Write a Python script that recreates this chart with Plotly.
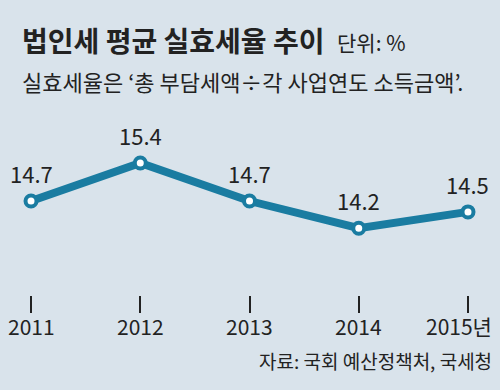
import plotly.graph_objects as go

years = [2011, 2012, 2013, 2014, 2015]
rates = [14.7, 15.4, 14.7, 14.2, 14.5]
year_labels = ["2011", "2012", "2013", "2014", "2015년"]
value_labels = ["14.7", "15.4", "14.7", "14.2", "14.5"]

title = "<b>법인세 평균 실효세율 추이</b>"
unit = "단위: %"
subtitle = "실효세율은 ‘총 부담세액÷각 사업연도 소득금액’."
source = "자료: 국회 예산정책처, 국세청"

BG = "#d9e3eb"
LINE = "#1a7ca1"
TXT = "#222222"
FONT = "Noto Sans CJK KR"

fig = go.Figure()
fig.add_trace(go.Scatter(
    x=years, y=rates, mode="lines+markers",
    line=dict(color=LINE, width=8),
    marker=dict(size=11, color="white", line=dict(color=LINE, width=4)),
    hoverinfo="skip", showlegend=False,
))

anns = []
for x, v, t in zip(years, rates, value_labels):
    anns.append(dict(x=x, y=v, text=t, showarrow=False, xanchor="center",
                     yanchor="bottom", yshift=10,
                     font=dict(family=FONT, size=22, color=TXT)))
for i, (x, t) in enumerate(zip(years, year_labels)):
    anns.append(dict(x=x, y=0, yref="paper", text=t, showarrow=False,
                     xanchor="center", yanchor="top", yshift=-14,
                     xshift=(-9 if i == len(years) - 1 else 0),
                     font=dict(family=FONT, size=21, color=TXT)))

fig.update_layout(
    width=500, height=390,
    paper_bgcolor=BG, plot_bgcolor=BG,
    margin=dict(l=0, r=0, t=0, b=95),
    font=dict(family=FONT, color=TXT),
    xaxis=dict(range=[2010.716, 2015.293], showgrid=False, zeroline=False,
               showline=False, tickvals=years, ticktext=[""] * len(years),
               ticks="outside", ticklen=17, tickwidth=1.5, tickcolor=TXT,
               fixedrange=True),
    yaxis=dict(range=[12.97, 18.40], showgrid=False, zeroline=False,
               showline=False, showticklabels=False, fixedrange=True),
    annotations=anns,
)

def py(px):
    return 1 - px / 295.0

fig.add_annotation(x=0, xref="paper", xshift=20, y=py(40), yref="paper",
                   text=title, showarrow=False, xanchor="left", yanchor="middle",
                   font=dict(family=FONT, size=28, color=TXT))
fig.add_annotation(x=0, xref="paper", xshift=335, y=py(42), yref="paper",
                   text=unit, showarrow=False, xanchor="left", yanchor="middle",
                   font=dict(family=FONT, size=21, color=TXT))
fig.add_annotation(x=0, xref="paper", xshift=20, y=py(81), yref="paper",
                   text=subtitle, showarrow=False, xanchor="left", yanchor="middle",
                   font=dict(family=FONT, size=22, color=TXT))
fig.add_annotation(x=1, xref="paper", xshift=-6, y=py(360), yref="paper",
                   text=source, showarrow=False, xanchor="right", yanchor="middle",
                   font=dict(family=FONT, size=19, color=TXT))

fig.write_html("out.html", config={"displayModeBar": False},
               post_script="document.body.style.margin='0';")
